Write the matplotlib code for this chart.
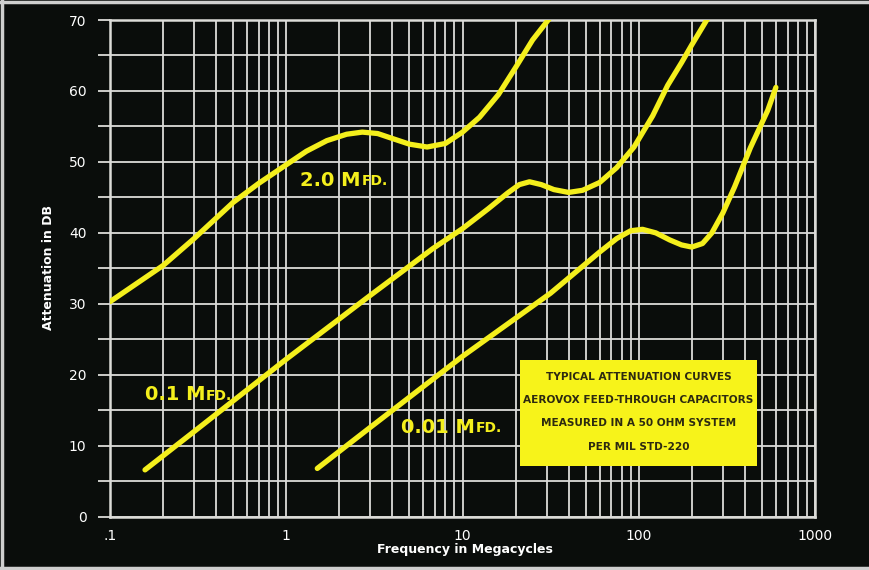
import matplotlib
matplotlib.use("Agg")
import matplotlib.pyplot as plt
from matplotlib.patches import Rectangle
from matplotlib.ticker import FixedLocator, NullFormatter

# ---- data ----
f_20 = [0.1, 0.2, 0.3, 0.5, 0.7, 1.0, 1.3, 1.7, 2.2, 2.7, 3.3, 4.0, 5.0, 6.3, 8.0, 10, 12.5, 16, 20, 25, 32]
db_20 = [30.3, 35.4, 39.2, 44.3, 47.0, 49.6, 51.5, 53.0, 53.9, 54.2, 54.0, 53.3, 52.5, 52.1, 52.6, 54.2, 56.3, 59.5, 63.3, 67.2, 70.6]

f_01 = [0.158, 0.3, 1, 3, 6.8, 10, 14, 18, 21, 24, 28, 33, 40, 48, 60, 75, 94, 120, 146, 175, 200, 250]
db_01 = [6.6, 12.0, 22.2, 31.2, 37.8, 40.6, 43.4, 45.6, 46.8, 47.2, 46.8, 46.1, 45.7, 46.0, 47.1, 49.2, 52.1, 56.5, 60.8, 64.0, 66.5, 70.5]

f_001 = [1.5, 3, 10, 31.6, 60, 75, 90, 105, 125, 150, 175, 200, 230, 260, 300, 350, 430, 540, 600]
db_001 = [6.8, 12.6, 22.6, 31.5, 37.3, 39.2, 40.3, 40.5, 40.0, 39.0, 38.3, 38.0, 38.5, 40.0, 42.8, 46.5, 52.0, 57.3, 60.5]

x_ticks = [0.1, 1, 10, 100, 1000]
x_ticklabels = [".1", "1", "10", "100", "1000"]
y_ticks = [0, 10, 20, 30, 40, 50, 60, 70]

box_lines = ["TYPICAL ATTENUATION CURVES",
             "AEROVOX FEED-THROUGH CAPACITORS",
             "MEASURED IN A 50 OHM SYSTEM",
             "PER MIL STD-220"]

# ---- style ----
BG = "#0a0d0b"
YEL = "#f4ef1c"
GRID = "#dcdcd8"
FONT = "DejaVu Sans"

fig = plt.figure(figsize=(8.69, 5.70), dpi=100, facecolor=BG)
ax = fig.add_axes([110/869, 1 - 516.7/570, 705/869, 496.7/570])
ax.set_facecolor(BG)
ax.set_xscale("log")
ax.set_xlim(0.1, 1000)
ax.set_ylim(0, 70)

# grid
ax.xaxis.set_major_locator(FixedLocator(x_ticks))
minors = [m * d for d in [0.1, 1, 10, 100] for m in range(2, 10)]
ax.xaxis.set_minor_locator(FixedLocator(minors))
ax.xaxis.set_minor_formatter(NullFormatter())
ax.set_xticklabels(x_ticklabels)
ax.yaxis.set_major_locator(FixedLocator(y_ticks))
ax.yaxis.set_minor_locator(FixedLocator([5, 15, 25, 35, 45, 55, 65]))
ax.grid(True, which="both", color=GRID, linewidth=1.3, zorder=1)
ax.set_axisbelow(True)

for s in ax.spines.values():
    s.set_color(GRID)
    s.set_linewidth(1.8)

ax.tick_params(axis="x", which="both", length=0, pad=9, colors="white", labelsize=10)
ax.tick_params(axis="y", which="both", length=9, width=1.3, color=GRID, pad=8,
               colors="white", labelsize=10)
ax.tick_params(axis="y", which="both", color=GRID)
for lab in ax.get_xticklabels() + ax.get_yticklabels():
    lab.set_fontfamily(FONT)
    lab.set_color("white")

# curves
for f, d in [(f_20, db_20), (f_01, db_01), (f_001, db_001)]:
    ax.plot(f, d, color=YEL, linewidth=3.8, solid_capstyle="round", zorder=3)

# curve labels: big digits + "M", small-caps "FD."
def cap_label(x, y, main, small):
    t = ax.text(x, y, main, color=YEL, fontsize=14, fontweight="bold",
                fontfamily=FONT, va="baseline", ha="left", zorder=4)
    ax.annotate(small, xy=(1, 0), xycoords=t, xytext=(0.5, 1.2), textcoords="offset points",
                color=YEL, fontsize=10, fontweight="bold", fontfamily=FONT,
                va="bottom", ha="left", zorder=4)

cap_label(1.2, 46.6, "2.0 M", "FD.")
cap_label(0.158, 16.4, "0.1 M", "FD.")
cap_label(4.5, 11.8, "0.01 M", "FD.")

# yellow box
ax.add_patch(Rectangle((0.5816, 0.102), 0.3364, 0.2135, transform=ax.transAxes,
                       facecolor="#f7f31a", edgecolor="none", zorder=5))
for yy, line in zip([0.281, 0.235, 0.189, 0.141], box_lines):
    ax.text(0.7496, yy, line, transform=ax.transAxes, ha="center", va="center",
            fontsize=7.6, fontweight="bold", fontfamily=FONT, color="#2d2a10", zorder=6)

# axis labels
fig.text(48/869, 1 - 268/570, "Attenuation in DB", rotation=90, ha="center", va="center",
         color="white", fontsize=9, fontweight="bold", fontfamily=FONT)
fig.text(465/869, 1 - 549/570, "Frequency in Megacycles", ha="center", va="center",
         color="white", fontsize=9, fontweight="bold", fontfamily=FONT)

# light border on the scan edges (top, bottom, left)
for xs, ys in [([0, 1], [0.997, 0.997]), ([0, 1], [0.004, 0.004]), ([0.002, 0.002], [0, 1])]:
    fig.add_artist(plt.Line2D(xs, ys, transform=fig.transFigure, color="#cfcfcf", linewidth=2.5))

fig.savefig("out.png", dpi=100, facecolor=BG)
